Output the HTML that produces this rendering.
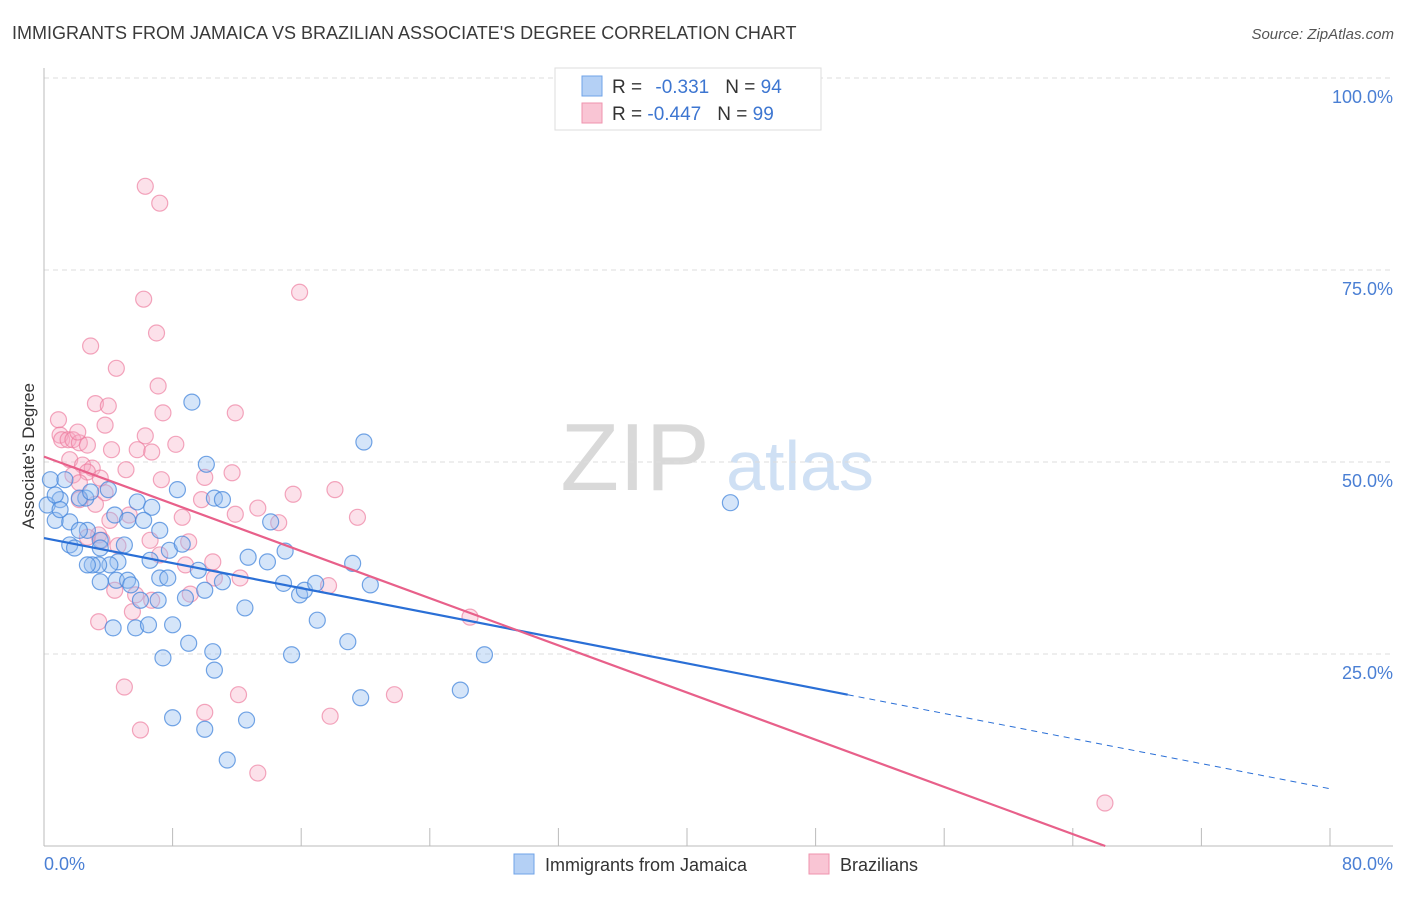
<!DOCTYPE html>
<html><head><meta charset="utf-8"><style>
body{margin:0;background:#fff;font-family:"Liberation Sans",sans-serif;}
svg text{font-family:"Liberation Sans",sans-serif;}
</style></head><body>
<svg id="chart" width="1406" height="892" xmlns="http://www.w3.org/2000/svg">
<text x="12" y="39" font-size="18" fill="#3a3a3a">IMMIGRANTS FROM JAMAICA VS BRAZILIAN ASSOCIATE'S DEGREE CORRELATION CHART</text>
<text x="1394" y="39" font-size="15" fill="#555" font-style="italic" text-anchor="end">Source: ZipAtlas.com</text>
<g>
<text x="635" y="490" font-size="96" fill="#d9d9d9" font-family="Liberation Serif, serif" text-anchor="middle">ZIP</text>
<text x="800" y="490" font-size="70" fill="#cfe0f4" text-anchor="middle">atlas</text>
</g>
<text transform="translate(34,456) rotate(-90)" font-size="17" fill="#333" text-anchor="middle">Associate's Degree</text>
<g id="grid"></g><g id="axes"></g><g id="pts"></g><g id="lines"></g>
<g>
<rect x="555" y="68" width="266" height="62" fill="#fff" stroke="#ddd"/>
<rect x="582" y="76" width="20" height="20" fill="#b4d0f5" stroke="#6fa3e8"/>
<rect x="582" y="103" width="20" height="20" fill="#f9c5d4" stroke="#ef93ae"/>
<text x="612" y="93" font-size="19" fill="#333">R = <tspan fill="#3d76d1" dx="8">-0.331</tspan><tspan dx="16">N = </tspan><tspan fill="#3d76d1">94</tspan></text>
<text x="612" y="120" font-size="19" fill="#333">R = <tspan fill="#3d76d1">-0.447</tspan><tspan dx="16">N = </tspan><tspan fill="#3d76d1">99</tspan></text>
</g>
<g>
<rect x="514" y="854" width="20" height="20" fill="#b4d0f5" stroke="#6fa3e8"/>
<text x="545" y="871" font-size="18" fill="#333">Immigrants from Jamaica</text>
<rect x="809" y="854" width="20" height="20" fill="#f9c5d4" stroke="#ef93ae"/>
<text x="840" y="871" font-size="18" fill="#333">Brazilians</text>
</g>
</svg>
<script>
const blueX=[9.2,19.9,10.1,42.7,4.0,5.8,6.7,2.6,1.0,0.4,0.2,0.7,1.6,2.7,3.5,4.4,5.2,6.2,7.2,7.8,8.6,9.6,10.6,11.1,11.1,12.7,14.1,15.0,13.9,14.9,12.5,8.8,8.0,9.0,10.5,10.6,7.4,8.0,10.0,11.4,12.6,15.4,15.9,16.2,16.9,17.0,18.9,19.2,20.3,19.7,25.9,27.4,5.7,6.5,7.1,7.2,7.7,4.5,5.2,4.6,4.1,3.4,3.0,2.7,3.5,1.6,1.9,2.2,4.3,6.0,5.4,1.3,0.7,1.0,2.2,2.9,5.0,6.6,3.5,10.0,8.3];
const blueY=[57.8,52.6,49.7,44.7,46.4,44.8,44.1,45.3,45.1,47.7,44.4,42.4,42.2,41.1,39.8,43.1,42.4,42.4,41.1,38.5,39.3,35.9,45.3,45.1,34.4,37.6,42.2,38.4,37.0,34.2,31.0,32.3,28.8,26.4,25.3,22.9,24.5,16.7,15.2,11.2,16.4,24.9,32.7,33.3,34.2,29.4,26.6,36.8,34.0,19.3,20.3,24.9,28.4,28.8,32.0,34.9,34.9,34.6,34.6,37.0,36.6,36.6,36.6,36.6,38.8,39.2,38.8,41.1,28.4,32.0,34.0,47.7,45.7,43.8,45.3,46.1,39.2,37.2,34.4,33.3,46.4];
const pinkX=[6.3,7.2,15.9,6.2,7.0,2.9,4.5,7.1,3.2,4.0,7.4,11.9,0.9,1.0,1.1,1.5,1.8,2.2,2.7,2.1,3.8,6.3,8.2,4.2,5.8,6.7,1.6,2.4,3.0,1.8,2.7,5.1,7.3,11.7,10.0,9.8,8.6,11.9,13.3,14.6,15.5,18.1,19.5,2.2,3.8,5.3,4.1,3.4,2.7,3.6,4.6,6.6,7.2,9.0,8.8,10.5,12.2,4.4,5.7,6.7,5.5,3.4,5.0,6.0,10.0,12.1,13.3,17.8,21.8,26.5,17.7,66.0,10.6,9.1,3.2,2.2,3.5];
const pinkY=[85.9,83.7,72.1,71.2,66.8,65.1,62.2,59.9,57.6,57.3,56.4,56.4,55.5,53.5,52.9,52.9,52.9,52.5,52.2,53.9,54.8,53.4,52.3,51.6,51.6,51.3,50.3,49.6,49.2,48.3,48.7,49.0,47.7,48.6,48.0,45.1,42.8,43.2,44.0,42.1,45.8,46.4,42.8,45.1,46.0,43.1,42.4,40.5,40.2,39.8,39.1,39.8,37.9,39.6,36.6,37.0,34.9,33.3,32.7,32.0,30.5,29.2,20.7,15.1,17.4,19.7,9.5,16.9,19.7,29.8,33.9,5.6,34.9,32.8,44.5,47.3,47.9];
const blueTrend=[40.1,-0.408];
const pinkTrend=[50.7,-0.768];
const xTicks=[0,8,16,24,32,40,48,56,64,72,80];
const yTicks=[25,50,75,100];
const NS="http://www.w3.org/2000/svg";
const X=v=>44+v*(1286/80), Y=v=>846-v*7.68;
function mk(p,t,a){const e=document.createElementNS(NS,t);for(const k in a)e.setAttribute(k,a[k]);document.getElementById(p).appendChild(e);return e;}
yTicks.forEach(t=>{
 const l=mk('grid','line',{x1:44,x2:1393,y1:Y(t),y2:Y(t),stroke:'#ddd','stroke-dasharray':'5,4'});
 
 
 const tx=mk('grid','text',{x:1393,y:Y(t)+25,'font-size':18,fill:'#4a7fd4','text-anchor':'end'});
 tx.textContent=t.toFixed(1)+'%';
 
 
});
const ax=mk('axes','line',{x1:44,x2:1393,y1:846,y2:846,stroke:'#bbb'});


const ay=mk('axes','line',{x1:44,x2:44,y1:68,y2:846,stroke:'#bbb'});


xTicks.forEach(t=>{
 const l=mk('axes','line',{x1:X(t),x2:X(t),y1:828,y2:846,stroke:'#bbb'});
 
 
});
[[0,'start'],[80,'end']].forEach(([t,a])=>{
 const tx=mk('axes','text',{x:t?1393:44,y:870,'font-size':18,fill:'#4a7fd4','text-anchor':a});
 tx.textContent=t.toFixed(1)+'%';
 
 
});
pinkX.forEach((x,i)=>{
 const c=mk('pts','circle',{cx:X(x),cy:Y(pinkY[i]),r:8,fill:'rgba(247,170,195,0.35)',stroke:'rgba(236,120,155,0.65)','stroke-width':1.2});
 
 
});
blueX.forEach((x,i)=>{
 const c=mk('pts','circle',{cx:X(x),cy:Y(blueY[i]),r:8,fill:'rgba(150,190,240,0.4)',stroke:'rgba(70,135,220,0.75)','stroke-width':1.2});
 
 
});
const f=(tr,x)=>tr[0]+tr[1]*x;
const b1=mk('lines','line',{x1:X(0),y1:Y(f(blueTrend,0)),x2:X(50),y2:Y(f(blueTrend,50)),stroke:'#2a6fd6','stroke-width':2.2});


const b2=mk('lines','line',{x1:X(50),y1:Y(f(blueTrend,50)),x2:X(80),y2:Y(f(blueTrend,80)),stroke:'#2a6fd6','stroke-width':1,'stroke-dasharray':'6,5'});


const px0=-pinkTrend[0]/pinkTrend[1];
const p1=mk('lines','line',{x1:X(0),y1:Y(f(pinkTrend,0)),x2:X(px0),y2:Y(0),stroke:'#e8608a','stroke-width':2.2});


</script>
</body></html>
